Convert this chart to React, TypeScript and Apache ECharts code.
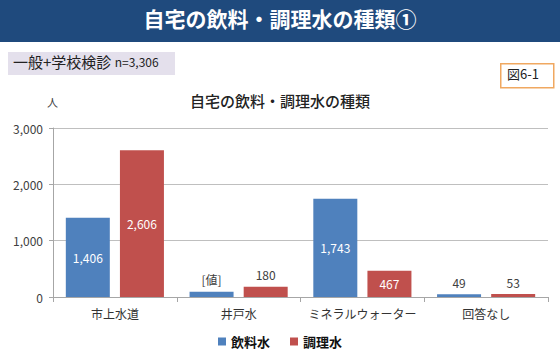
import React, { useEffect, useRef } from "react";
import * as echarts from "echarts";

const categories = ["市上水道", "井戸水", "ミネラルウォーター", "回答なし"];
const drinking = [1406, 95, 1743, 49];
const cooking = [2606, 180, 467, 53];
const drinkingLabels = ["1,406", "[値]", "1,743", "49"];
const cookingLabels = ["2,606", "180", "467", "53"];
const seriesNames = ["飲料水", "調理水"];
const yTicks = { min: 0, max: 3000, interval: 1000 };

const JP = '"Noto Sans CJK JP", "Noto Sans", sans-serif';
const BLUE = "#4F81BD";
const RED = "#C0504D";

function buildData(values: number[], labels: string[]) {
  return values.map((v, i) => {
    const inside = v > 300;
    return {
      value: v,
      label: {
        show: true,
        position: inside ? "inside" : "top",
        color: inside ? "#ffffff" : "#404040",
        formatter: () => labels[i],
        fontSize: 12,
        fontWeight: "normal",
        fontFamily: JP,
        textBorderWidth: 0,
        textBorderColor: "transparent",
        distance: 6,
      },
    };
  });
}

export default function App() {
  const ref = useRef<HTMLDivElement>(null);
  useEffect(() => {
    if (!ref.current) return;
    const chart = echarts.init(ref.current, undefined, { renderer: "svg" });
    chart.setOption({
      animation: false,
      backgroundColor: "#ffffff",
      textStyle: { fontFamily: JP },
      graphic: [
        { type: "rect", left: 0, top: 0, shape: { width: 560, height: 42 }, style: { fill: "#1F4A7D" } },
        {
          type: "text", left: "center", top: 7,
          style: { text: "自宅の飲料・調理水の種類①", fill: "#ffffff", font: `bold 21px ${JP}` },
        },
        { type: "rect", left: 8, top: 52, shape: { width: 167, height: 23 }, style: { fill: "#E4E0EC" } },
        {
          type: "text", left: 13, top: 54,
          style: {
            text: "{a|一般+学校検診} {b|n=3,306}",
            rich: {
              a: { font: `15px ${JP}`, fill: "#222222" },
              b: { font: `12px ${JP}`, fill: "#222222" },
            },
          },
        },
        {
          type: "rect", left: 500, top: 63, shape: { width: 53, height: 24 },
          style: { fill: "#ffffff", stroke: "#F0A860", lineWidth: 1.5 },
        },
        {
          type: "text", left: 507, top: 67,
          style: { text: "図6-1", fill: "#222222", font: `13px ${JP}` },
        },
        {
          type: "text", left: "center", top: 93,
          style: { text: "自宅の飲料・調理水の種類", fill: "#222222", font: `500 15px ${JP}` },
        },
        {
          type: "text", left: 47, top: 96,
          style: { text: "人", fill: "#404040", font: `11px ${JP}` },
        },
      ],
      legend: {
        bottom: 2,
        left: "center",
        itemWidth: 8,
        itemHeight: 8,
        itemGap: 20,
        icon: "rect",
        textStyle: { fontSize: 13, color: "#111111", fontFamily: JP, fontWeight: "bold" },
        data: seriesNames,
      },
      grid: { left: 53, right: 12, top: 128, bottom: 58 },
      xAxis: {
        type: "category",
        data: categories,
        axisLine: { lineStyle: { color: "#A6A6A6" } },
        axisTick: { show: true, length: 5, lineStyle: { color: "#A6A6A6" } },
        axisLabel: { color: "#333333", fontSize: 12, fontFamily: JP, margin: 10, interval: 0 },
      },
      yAxis: {
        type: "value",
        min: yTicks.min,
        max: yTicks.max,
        interval: yTicks.interval,
        axisLine: { show: true, lineStyle: { color: "#A6A6A6" } },
        axisTick: { show: true, length: 4, lineStyle: { color: "#A6A6A6" } },
        axisLabel: {
          color: "#404040", fontSize: 12, fontFamily: JP, margin: 10,
          formatter: (v: number) => v.toLocaleString("en-US"),
        },
        splitLine: { lineStyle: { color: "#BFBFBF" } },
      },
      series: [
        {
          name: seriesNames[0], type: "bar", barWidth: 44, barGap: "23%",
          itemStyle: { color: BLUE }, data: buildData(drinking, drinkingLabels),
        },
        {
          name: seriesNames[1], type: "bar", barWidth: 44, barGap: "23%",
          itemStyle: { color: RED }, data: buildData(cooking, cookingLabels),
        },
      ],
    });
    return () => chart.dispose();
  }, []);
  return <div ref={ref} style={{ width: 560, height: 355, position: "absolute", left: 0, top: 0 }} />;
}
